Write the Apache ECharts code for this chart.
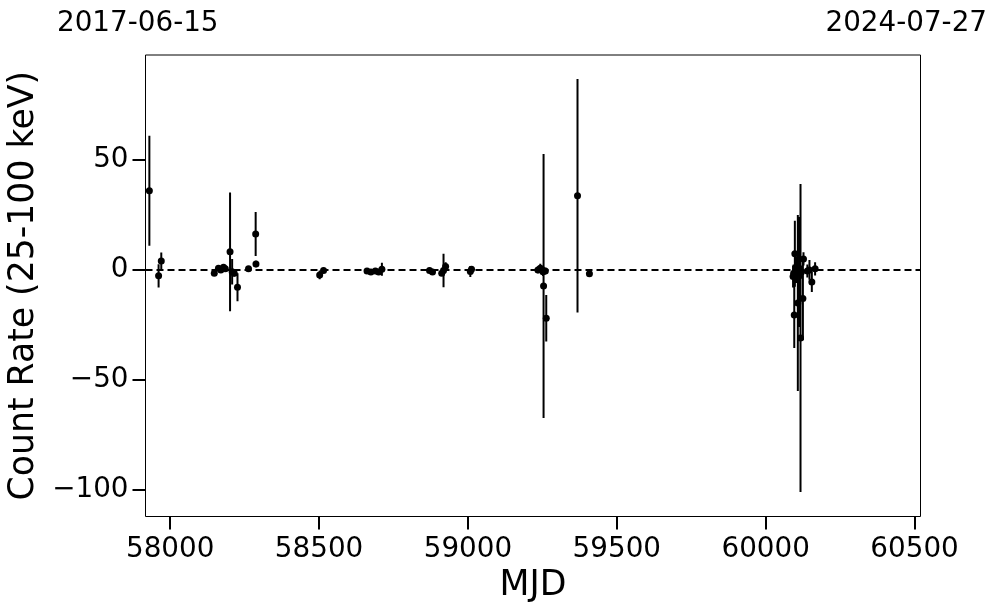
<!DOCTYPE html>
<html>
<head>
<meta charset="utf-8">
<script src="https://cdn.jsdelivr.net/npm/echarts@6/dist/echarts.min.js"></script>
<style>
html,body{margin:0;padding:0;background:#fff;}
#chart{width:997px;height:613px;}
</style>
</head>
<body>
<div id="chart"></div>
<script>
// ---- data ----
const mjd = [57930, 57961, 57970, 58148, 58162, 58170, 58179, 58185, 58201, 58208, 58215, 58226, 58263, 58287, 58288,
  58502, 58515, 58661, 58674, 58689, 58700, 58711, 58871, 58881, 58912, 58918, 58925, 59008, 59012,
  59235, 59243, 59248, 59252, 59254, 59260, 59263, 59368, 59408,
  60092, 60094, 60096, 60098, 60102, 60108, 60112, 60117, 60120, 60125, 60127, 60140, 60147, 60155, 60166];
const rate = [36, -2.7, 4.1, -1.5, 0.8, 0, 1.2, 0.5, 8.2, -0.8, -1.5, -7.9, 0.5, 16.3, 2.7,
  -2.3, -0.3, -0.5, -1, -0.5, -1, 0.3, -0.3, -1, -1.5, -0.3, 1.5, -0.7, 0.3,
  0, 0.8, 0.3, -0.8, -7.3, -0.5, -22, 33.7, -1.8,
  -3, -1.5, -20.5, 7.3, 0, -15, -1, -31, -1, -13, 5, -0.5, 0, -5.5, 0.5];
const rateErr = [25, 5.3, 3.8, 1, 1, 1, 1, 1, 27, 5.8, 1.5, 6.4, 1, 10, 1.5,
  2, 1, 1, 1, 1, 1, 3, 1, 1, 1, 7.6, 2, 2.5, 1,
  1.5, 2, 1.5, 2, 60, 1.5, 10.6, 53.1, 1,
  5, 4, 15, 15, 6, 40, 25, 70, 3, 19, 3, 3, 4.5, 4.5, 3];
const xTicks = [58000, 58500, 59000, 59500, 60000, 60500];
const yTicks = [-100, -50, 0, 50];
const xRange = [57917, 60520];
const yRange = [-112.1, 97.7];
const startLabel = '2017-06-15';
const endLabel = '2024-07-27';

const pts = mjd.map((m, i) => [m, rate[i], rateErr[i]]);
const minus = v => String(v).replace('-', '\u2212');

const chart = echarts.init(document.getElementById('chart'), null, {renderer: 'canvas'});
const FONT = 'DejaVu Sans';
chart.setOption({
  animation: false,
  backgroundColor: '#ffffff',
  textStyle: {fontFamily: FONT},
  grid: {left: 145.5, right: 76.5, top: 55, bottom: 96.5, containLabel: false, outerBoundsMode: 'none',
         show: true, borderColor: '#000', borderWidth: 1, backgroundColor: 'transparent'},
  graphic: [
    {type: 'text', left: 57, top: 10, style: {text: startLabel, font: '27.8px "DejaVu Sans"', fill: '#000'}},
    {type: 'text', right: 10, top: 10, style: {text: endLabel, font: '27.8px "DejaVu Sans"', fill: '#000'}}
  ],
  xAxis: {
    type: 'value', min: xRange[0], max: xRange[1],
    name: 'MJD', nameLocation: 'middle', nameGap: 52,
    nameTextStyle: {fontSize: 34.7, color: '#000', fontFamily: FONT},
    axisLine: {show: false, onZero: false},
    splitLine: {show: false},
    axisTick: {show: true, length: 13, lineStyle: {color: '#000', width: 2}, customValues: xTicks},
    axisLabel: {show: true, fontSize: 27.8, color: '#000', margin: 19, fontFamily: FONT, customValues: xTicks, formatter: v => minus(v)}
  },
  yAxis: {
    type: 'value', min: yRange[0], max: yRange[1],
    name: 'Count Rate (25-100 keV)', nameLocation: 'middle', nameGap: 100,
    nameTextStyle: {fontSize: 34.7, color: '#000', fontFamily: FONT},
    axisLine: {show: false, onZero: false},
    splitLine: {show: false},
    axisTick: {show: true, length: 13, lineStyle: {color: '#000', width: 2}, customValues: yTicks},
    axisLabel: {show: true, fontSize: 27.8, color: '#000', margin: 17, fontFamily: FONT, customValues: yTicks, formatter: v => minus(v)}
  },
  series: [
    {
      type: 'custom',
      data: pts,
      z: 2,
      renderItem: function (params, api) {
        const x = api.value(0), y = api.value(1), e = api.value(2);
        const p1 = api.coord([x, y + e]);
        const p2 = api.coord([x, y - e]);
        return {type: 'line', shape: {x1: p1[0], y1: p1[1], x2: p2[0], y2: p2[1]}, style: {stroke: '#000', lineWidth: 2}};
      },
      encode: {x: 0, y: 1},
      clip: true
    },
    {
      type: 'scatter',
      data: pts,
      symbol: 'circle',
      symbolSize: 7,
      itemStyle: {color: '#000', opacity: 1},
      z: 3,
      markLine: {
        silent: true,
        symbol: 'none',
        label: {show: false},
        lineStyle: {color: '#000', width: 2, type: [7, 4]},
        data: [{yAxis: 0}]
      }
    }
  ]
});
</script>
</body>
</html>
